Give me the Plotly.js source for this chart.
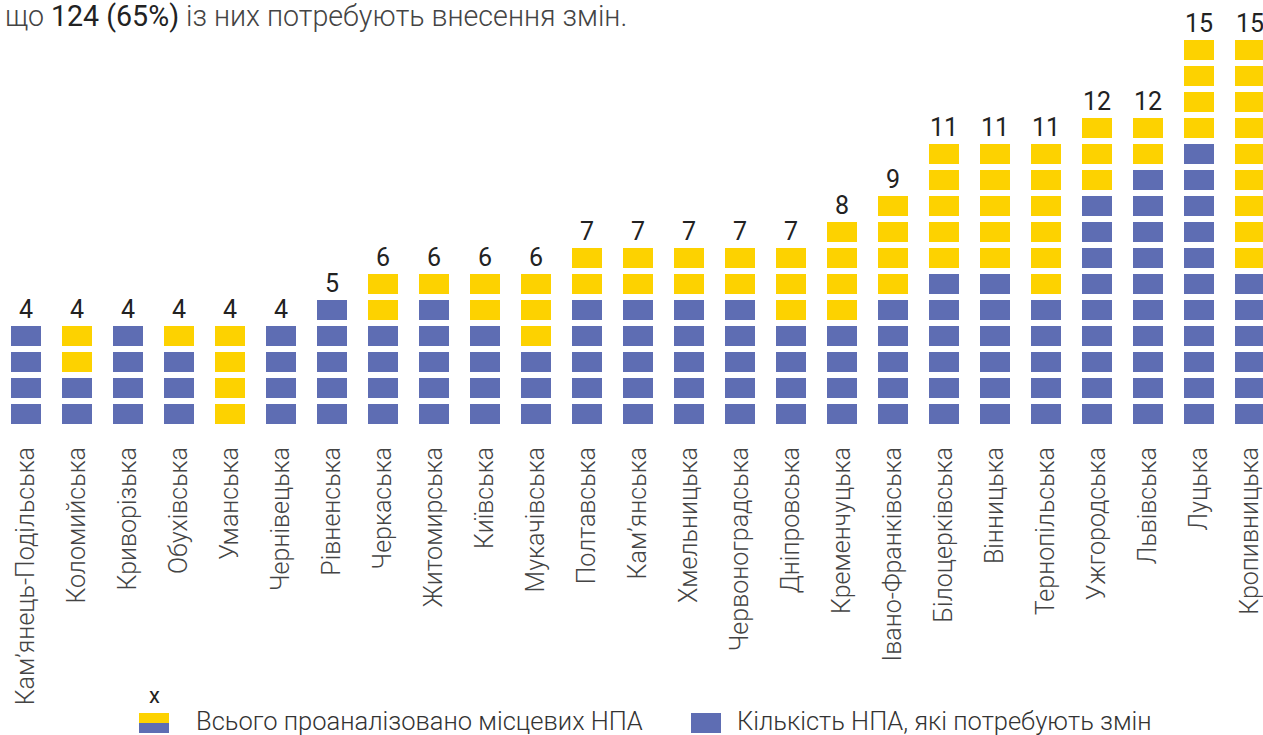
<!DOCTYPE html>
<html><head><meta charset="utf-8">
<script src="https://cdn.plot.ly/plotly-3.0.1.min.js"></script>
<style>html,body{margin:0;padding:0;background:#fff;overflow:hidden}#chart{width:1263px;height:735px}</style>
</head><body><div id="chart"></div>
<script>
const cities = ["Кам’янець-Подільська","Коломийська","Криворізька","Обухівська","Уманська","Чернівецька","Рівненська","Черкаська","Житомирська","Київська","Мукачівська","Полтавська","Кам’янська","Хмельницька","Червоноградська","Дніпровська","Кременчуцька","Івано-Франківська","Білоцерківська","Вінницька","Тернопільська","Ужгородська","Львівська","Луцька","Кропивницька"];
const totals =     [4,4,4,4,4,4,5,6,6,6,6,7,7,7,7,7,8,9,11,11,11,12,12,15,15];
const needChange = [4,2,4,3,0,4,5,4,5,4,3,5,5,5,5,4,4,5,6,6,5,9,10,11,6];
const legendNames = ["Всього проаналізовано місцевих НПА","Кількість НПА, які потребують змін"];
const introText = "що <span style='font-weight:400;fill:#222'>124 (65%)</span> із них потребують внесення змін.";

const BLUE = "#5e6db3", YELLOW = "#fdd200";
const W = 1263, H = 735, PLOT_BOTTOM = 424, UNIT = 26;
const FONT = "Roboto, 'Open Sans', sans-serif";
const px = X => X / W;
const py = Y => (PLOT_BOTTOM - Y) / PLOT_BOTTOM;

const maxLevel = Math.max(...totals);
const traces = [];
for (let L = 1; L <= maxLevel; L++) {
  const xs = [], cols = [];
  cities.forEach((c, i) => {
    if (totals[i] >= L) { xs.push(c); cols.push(L <= needChange[i] ? BLUE : YELLOW); }
  });
  traces.push({
    type: "bar", x: xs, y: xs.map(() => 20 / UNIT), base: L - 1,
    width: 30 / 51, marker: {color: cols, line: {width: 0}},
    showlegend: false, hoverinfo: "skip"
  });
}

const annotations = cities.map((c, i) => ({
  x: c, y: totals[i] - 6 / UNIT, xref: "x", yref: "y", text: String(totals[i]),
  showarrow: false, yanchor: "bottom", yshift: 0,
  font: {family: FONT, size: 25, color: "#222", weight: 400}
}));
annotations.push({
  x: px(3), y: py(16), xref: "paper", yref: "paper", xanchor: "left", yanchor: "middle",
  text: introText, showarrow: false, font: {family: FONT, size: 28.6, color: "#444", weight: 300}
});
annotations.push({
  x: px(154), y: py(695), xref: "paper", yref: "paper", xanchor: "center", yanchor: "middle",
  text: "x", showarrow: false, font: {family: FONT, size: 22, color: "#222", weight: 400}
});
annotations.push({
  x: px(194), y: py(721), xref: "paper", yref: "paper", xanchor: "left", yanchor: "middle",
  text: legendNames[0], showarrow: false, font: {family: FONT, size: 25.5, color: "#333", weight: 300}
});
annotations.push({
  x: px(735), y: py(721), xref: "paper", yref: "paper", xanchor: "left", yanchor: "middle",
  text: legendNames[1], showarrow: false, font: {family: FONT, size: 25.5, color: "#333", weight: 300}
});

const shapes = [
  {type: "rect", xref: "paper", yref: "paper", x0: px(139), x1: px(169), y0: py(713), y1: py(723), fillcolor: YELLOW, line: {width: 0}},
  {type: "rect", xref: "paper", yref: "paper", x0: px(139), x1: px(169), y0: py(723), y1: py(733), fillcolor: BLUE, line: {width: 0}},
  {type: "rect", xref: "paper", yref: "paper", x0: px(691), x1: px(721), y0: py(713), y1: py(733), fillcolor: BLUE, line: {width: 0}}
];

const layout = {
  width: W, height: H,
  margin: {l: 0, r: 0, t: 0, b: H - PLOT_BOTTOM, pad: 0},
  paper_bgcolor: "#fff", plot_bgcolor: "#fff",
  barmode: "overlay", showlegend: false,
  font: {family: FONT},
  xaxis: {
    type: "category", range: [-26 / 51, -26 / 51 + W / 51],
    tickangle: -90, ticks: "", showgrid: false, zeroline: false, showline: false,
    tickfont: {family: FONT, size: 25, color: "#444", weight: 300},
    ticklabelstandoff: 17, automargin: false
  },
  yaxis: {range: [0, PLOT_BOTTOM / UNIT], visible: false, fixedrange: true},
  annotations, shapes
};

Plotly.newPlot("chart", traces, layout, {staticPlot: true, displayModeBar: false});
</script>
</body></html>
